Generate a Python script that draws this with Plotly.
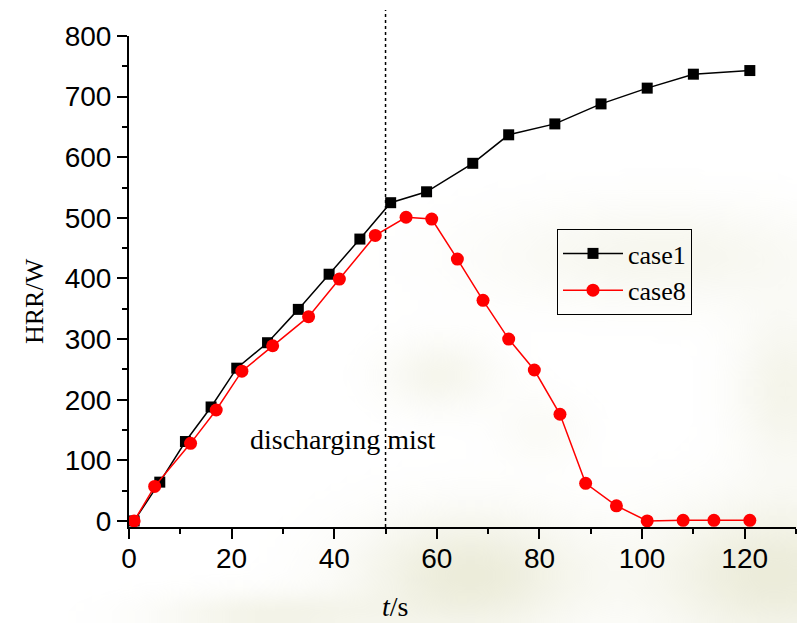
import base64
import struct
import zlib
import math
import plotly.graph_objects as go

# Data
case1_t = [1, 6, 11, 16, 21, 27, 33, 39, 45, 51, 58, 67, 74, 83, 92, 101, 110, 121]
case1_hrr = [0, 64, 131, 188, 252, 294, 349, 407, 465, 525, 543, 590, 637, 655, 688, 714, 737, 743]

case8_t = [1, 5, 12, 17, 22, 28, 35, 41, 48, 54, 59, 64, 69, 74, 79, 84, 89, 95, 101, 108, 114, 121]
case8_hrr = [0, 57, 128, 183, 247, 289, 337, 399, 471, 501, 498, 432, 364, 300, 249, 176, 62, 25, 0, 1, 1, 1]

x_ticks = [0, 20, 40, 60, 80, 100, 120]
y_ticks = [0, 100, 200, 300, 400, 500, 600, 700, 800]
mist_time = 50

serif = "Liberation Serif"
sans = "Liberation Sans"

W, H = 797, 623
L, R, T, B = 129, 1, 36, 96
PW, PH = W - L - R, H - T - B


# ---- faint blurred beige watermark in the background (decoration only) ----
def make_background_png():
    iw, ih = 100, 78
    sx, sy = W / iw, H / ih
    blobs = [  # (cx, cy, rx, ry, strength) in figure pixels
        (470, 575, 110, 60, 0.45),
        (775, 575, 120, 70, 0.45),
        (440, 375, 55, 35, 0.22),
        (660, 255, 170, 50, 0.2),
        (270, 615, 110, 22, 0.28),
        (785, 390, 50, 80, 0.25),
        (540, 430, 45, 35, 0.1),
    ]
    rows = []
    for j in range(ih):
        row = bytearray([0])
        py = (j + 0.5) * sy
        for i in range(iw):
            px = (i + 0.5) * sx
            a = 0.0
            for cx, cy, rx, ry, s in blobs:
                d = ((px - cx) / rx) ** 2 + ((py - cy) / ry) ** 2
                a += s * math.exp(-d)
            a = min(a, 0.5)
            row += bytes([212, 212, 172, int(a * 255)])
        rows.append(bytes(row))
    raw = b"".join(rows)

    def chunk(tag, data):
        c = tag + data
        return struct.pack(">I", len(data)) + c + struct.pack(">I", zlib.crc32(c) & 0xFFFFFFFF)

    png = b"\x89PNG\r\n\x1a\n"
    png += chunk(b"IHDR", struct.pack(">IIBBBBB", iw, ih, 8, 6, 0, 0, 0))
    png += chunk(b"IDAT", zlib.compress(raw, 9))
    png += chunk(b"IEND", b"")
    return "data:image/png;base64," + base64.b64encode(png).decode()


fig = go.Figure()
fig.add_trace(go.Scatter(
    x=case1_t, y=case1_hrr, name="case1", mode="lines+markers",
    line=dict(color="black", width=1.5),
    marker=dict(symbol="square", size=11, color="black"),
))
fig.add_trace(go.Scatter(
    x=case8_t, y=case8_hrr, name="case8", mode="lines+markers",
    line=dict(color="red", width=1.5),
    marker=dict(symbol="circle", size=13, color="red"),
))

fig.add_shape(type="line", xref="x", yref="paper", x0=mist_time, x1=mist_time,
              y0=0, y1=(T + PH - 10) / PH, line=dict(color="black", width=1.5, dash="dot"))

fig.add_annotation(x=41.7, y=135, xref="x", yref="y", text="discharging mist",
                   showarrow=False, font=dict(family=serif, size=28, color="black"),
                   xanchor="center", yanchor="middle")
fig.add_annotation(x=(395 - L) / PW, y=(T + PH - 606) / PH, xref="paper", yref="paper",
                   text="<i>t</i>/s", showarrow=False,
                   font=dict(family=serif, size=28, color="black"),
                   xanchor="center", yanchor="middle")
fig.add_annotation(x=(34 - L) / PW, y=(T + PH - 301) / PH, xref="paper", yref="paper",
                   text="HRR/W", showarrow=False, textangle=-90,
                   font=dict(family=serif, size=26, color="black"),
                   xanchor="center", yanchor="middle")

axis_common = dict(
    showgrid=False, zeroline=False, showline=True, linecolor="black", linewidth=2,
    ticks="outside", ticklen=10, tickwidth=2, tickcolor="black",
    tickfont=dict(family=sans, size=28, color="black"),
)

fig.update_xaxes(range=[0, 130], tickvals=x_ticks, ticklabelstandoff=-5,
                 minor=dict(dtick=10, tick0=0, ticks="outside", ticklen=5, tickwidth=2, tickcolor="black"),
                 **axis_common)
fig.update_yaxes(range=[-10, 800], tickvals=y_ticks,
                 minor=dict(dtick=50, tick0=0, ticks="outside", ticklen=5, tickwidth=2, tickcolor="black"),
                 **axis_common)

fig.update_layout(
    width=W, height=H,
    margin=dict(l=L, r=R, t=T, b=B),
    paper_bgcolor="white", plot_bgcolor="rgba(0,0,0,0)",
    showlegend=True,
    legend=dict(
        x=(557 - L) / PW, y=(T + PH - 229) / PH, xanchor="left", yanchor="top",
        bordercolor="black", borderwidth=1, bgcolor="rgba(255,255,255,0)",
        font=dict(family=serif, size=26, color="black"),
        itemwidth=60, tracegroupgap=0,
    ),
    images=[dict(
        source=make_background_png(), xref="paper", yref="paper",
        x=-L / PW, y=(T + PH) / PH, sizex=W / PW, sizey=H / PH,
        xanchor="left", yanchor="top", sizing="stretch", layer="below",
    )],
)

fig.write_html("out.html")
